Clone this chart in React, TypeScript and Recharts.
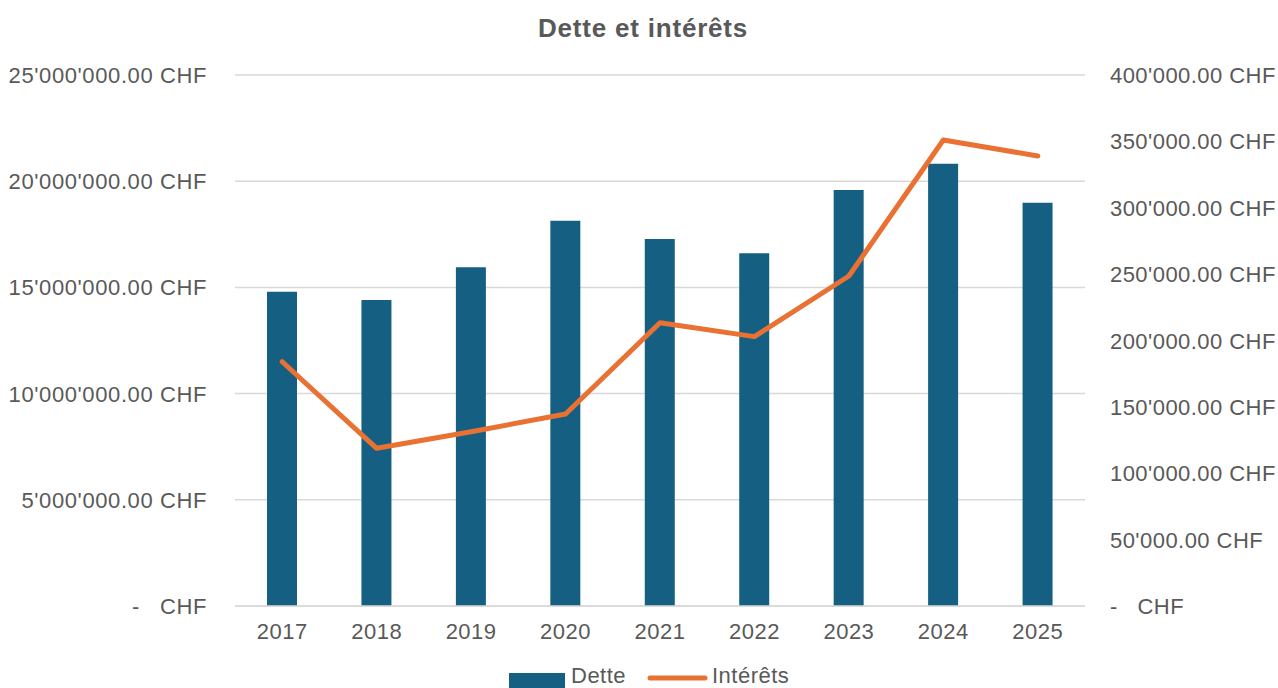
import React from 'react';
import { ComposedChart, Bar, Line, XAxis, YAxis, CartesianGrid, Legend } from 'recharts';

const categories = ['2017', '2018', '2019', '2020', '2021', '2022', '2023', '2024', '2025'];
const detteValues = [14800000, 14410000, 15950000, 18140000, 17280000, 16610000, 19590000, 20820000, 18990000];
const interetsValues = [184000, 118800, 131300, 144600, 213400, 202900, 248600, 351000, 339000];
const leftTicks = [0, 5000000, 10000000, 15000000, 20000000, 25000000];
const rightTicks = [0, 50000, 100000, 150000, 200000, 250000, 300000, 350000, 400000];

const data = categories.map((year, i) => ({ year, Dette: detteValues[i], 'Intérêts': interetsValues[i] }));

const FONT = '"Liberation Sans", Arial, sans-serif';
const TEXT = '#595959';
const BAR = '#156082';
const LINE = '#E97132';

function fmt(v: number): string {
  if (v === 0) return '-   CHF';
  const [int, dec] = v.toFixed(2).split('.');
  return int.replace(/\B(?=(\d{3})+(?!\d))/g, "'") + '.' + dec + ' CHF';
}

const LeftTick = (props: any) => {
  const { x, y, payload } = props;
  return (
    <text x={x} y={y} dy={8} textAnchor="end" fill={TEXT} fontSize={22} fontFamily={FONT} letterSpacing={0.6} style={{ whiteSpace: 'pre' }}>
      {fmt(payload.value)}
    </text>
  );
};

const RightTick = (props: any) => {
  const { x, y, payload } = props;
  return (
    <text x={x} y={y} dy={8} textAnchor="start" fill={TEXT} fontSize={22} fontFamily={FONT} letterSpacing={0.45} style={{ whiteSpace: 'pre' }}>
      {fmt(payload.value)}
    </text>
  );
};

const BottomTick = (props: any) => {
  const { x, y, payload } = props;
  return (
    <text x={x} y={y} dy={16} textAnchor="middle" fill={TEXT} fontSize={22} fontFamily={FONT} letterSpacing={0.5}>
      {payload.value}
    </text>
  );
};

const LegendContent = () => (
  <svg width={1278} height={20} style={{ overflow: 'visible', display: 'block' }}>
    <rect x={509} y={5} width={56} height={20} fill={BAR} />
    <text x={571} y={15} fill={TEXT} fontSize={22} fontFamily={FONT} letterSpacing={0.5}>Dette</text>
    <line x1={650} y1={10} x2={705} y2={10} stroke={LINE} strokeWidth={5} strokeLinecap="round" />
    <text x={712} y={15} fill={TEXT} fontSize={22} fontFamily={FONT} letterSpacing={0.5}>Intérêts</text>
  </svg>
);

export default function App() {
  return (
    <div style={{ position: 'absolute', left: 0, top: 0, width: 1278, height: 688, overflow: 'hidden', background: '#fff' }}>
      <div
        style={{
          position: 'absolute',
          left: 0,
          top: 13,
          width: 1286,
          textAlign: 'center',
          fontFamily: FONT,
          fontWeight: 'bold',
          fontSize: 26,
          letterSpacing: 0.8,
          color: TEXT,
          lineHeight: '30px',
        }}
      >
        Dette et intérêts
      </div>
      <ComposedChart width={1278} height={688} data={data} margin={{ top: 75, right: 0, bottom: 22, left: 0 }}>
        <CartesianGrid yAxisId="left" vertical={false} stroke="#d9d9d9" strokeWidth={1.5} />
        <XAxis
          dataKey="year"
          height={40}
          axisLine={{ stroke: '#d9d9d9', strokeWidth: 1.5 }}
          tickLine={false}
          tickSize={0}
          tickMargin={17}
          tick={<BottomTick />}
          interval={0}
        />
        <YAxis
          yAxisId="left"
          orientation="left"
          width={235}
          domain={[0, 25000000]}
          ticks={leftTicks}
          axisLine={false}
          tickLine={false}
          tickSize={0}
          tickMargin={28}
          tick={<LeftTick />}
          interval={0}
        />
        <YAxis
          yAxisId="right"
          orientation="right"
          width={193}
          domain={[0, 400000]}
          ticks={rightTicks}
          axisLine={false}
          tickLine={false}
          tickSize={0}
          tickMargin={25}
          tick={<RightTick />}
          interval={0}
        />
        <Bar yAxisId="left" dataKey="Dette" fill={BAR} barSize={30} isAnimationActive={false} />
        <Line
          yAxisId="right"
          dataKey="Intérêts"
          stroke={LINE}
          strokeWidth={5}
          dot={false}
          activeDot={false}
          strokeLinecap="round"
          strokeLinejoin="round"
          isAnimationActive={false}
        />
        <Legend
          verticalAlign="bottom"
          content={<LegendContent />}
          wrapperStyle={{ position: 'absolute', left: 0, top: 668, width: 1278, height: 20 }}
        />
      </ComposedChart>
    </div>
  );
}
